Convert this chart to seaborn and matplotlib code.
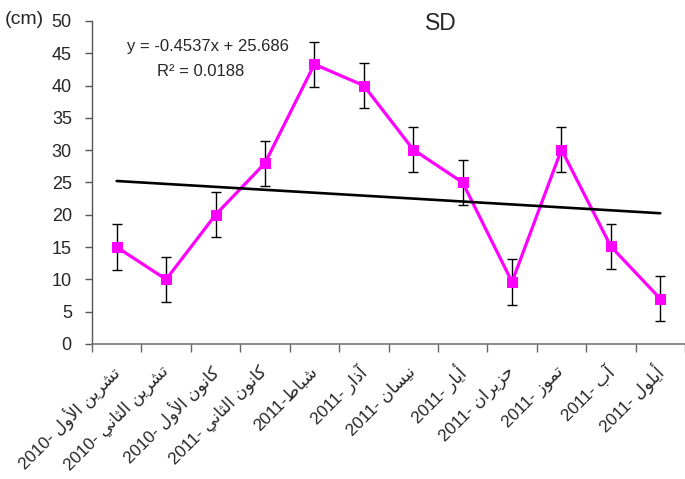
import numpy as np
import pandas as pd
import matplotlib
matplotlib.use("Agg")
import matplotlib.pyplot as plt
from matplotlib import font_manager
from matplotlib.transforms import ScaledTranslation
import seaborn as sns

# ---------------- data ----------------
months_ar = ["تشرين الأول", "تشرين الثاني", "كانون الأول", "كانون الثاني", "شباط", "آذار",
             "نيسان", "أيار", "حزيران", "تموز", "آب", "أيلول"]
years = ["2010", "2010", "2010", "2011", "2011", "2011",
         "2011", "2011", "2011", "2011", "2011", "2011"]
values = [15.0, 10.0, 20.0, 28.0, 43.3, 40.0, 30.1, 25.0, 9.6, 30.1, 15.1, 7.0]
errors = [3.5, 3.5, 3.5, 3.5, 3.5, 3.5, 3.5, 3.5, 3.5, 3.5, 3.5, 3.5]
trend_slope = -0.4537
trend_intercept = 25.686
eq_text = "y = -0.4537x + 25.686"
r2_text = "R² = 0.0188"
title = "SD"
unit = "(cm)"

# ---------------- minimal Arabic shaping ----------------
FORMS = {
    'ء': (0xFE80, 1), 'آ': (0xFE81, 2), 'أ': (0xFE83, 2), 'ؤ': (0xFE85, 2), 'إ': (0xFE87, 2),
    'ئ': (0xFE89, 4), 'ا': (0xFE8D, 2), 'ب': (0xFE8F, 4), 'ة': (0xFE93, 2), 'ت': (0xFE95, 4),
    'ث': (0xFE99, 4), 'ج': (0xFE9D, 4), 'ح': (0xFEA1, 4), 'خ': (0xFEA5, 4), 'د': (0xFEA9, 2),
    'ذ': (0xFEAB, 2), 'ر': (0xFEAD, 2), 'ز': (0xFEAF, 2), 'س': (0xFEB1, 4), 'ش': (0xFEB5, 4),
    'ص': (0xFEB9, 4), 'ض': (0xFEBD, 4), 'ط': (0xFEC1, 4), 'ظ': (0xFEC5, 4), 'ع': (0xFEC9, 4),
    'غ': (0xFECD, 4), 'ف': (0xFED1, 4), 'ق': (0xFED5, 4), 'ك': (0xFED9, 4), 'ل': (0xFEDD, 4),
    'م': (0xFEE1, 4), 'ن': (0xFEE5, 4), 'ه': (0xFEE9, 4), 'و': (0xFEED, 2), 'ى': (0xFEEF, 2),
    'ي': (0xFEF1, 4),
}
LIG = {'آ': 0xFEF5, 'أ': 0xFEF7, 'إ': 0xFEF9, 'ا': 0xFEFB}


def shape_rtl(s):
    toks = []
    i = 0
    while i < len(s):
        c = s[i]
        if c == 'ل' and i + 1 < len(s) and s[i + 1] in LIG:
            toks.append(('LIG', LIG[s[i + 1]]))
            i += 2
        else:
            toks.append(c)
            i += 1

    def jt(t):
        if isinstance(t, tuple):
            return 2
        return FORMS[t][1] if t in FORMS else 0

    out = []
    for k, t in enumerate(toks):
        prev = toks[k - 1] if k > 0 else None
        nxt = toks[k + 1] if k + 1 < len(toks) else None
        if isinstance(t, tuple):
            base, typ = t[1], 2
        elif t in FORMS:
            base, typ = FORMS[t]
        else:
            out.append(t)
            continue
        jb = prev is not None and jt(prev) == 4
        ja = typ == 4 and nxt is not None and jt(nxt) >= 2
        if typ == 4:
            ch = base + 3 if (jb and ja) else base + 1 if jb else base + 2 if ja else base
        elif typ == 2:
            ch = base + 1 if jb else base
        else:
            ch = base
        out.append(chr(ch))
    return ''.join(out)[::-1]


labels = []
for m, yv in zip(months_ar, years):
    sep = "-" if m == "شباط" else "- "
    labels.append(yv + sep + shape_rtl(m))

# ---------------- fonts ----------------
installed = {f.name for f in font_manager.fontManager.ttflist}
label_family = ['Liberation Sans']
if 'DejaVu Sans Condensed' in installed:
    label_family.append('DejaVu Sans Condensed')
label_family.append('DejaVu Sans')

# ---------------- plot ----------------
sns.set_style("ticks")
plt.rcParams['font.family'] = ['Liberation Sans', 'DejaVu Sans']

fig = plt.figure(figsize=(6.85, 4.79), dpi=100)
ax = fig.add_axes([92 / 685, 135 / 479, 593 / 685, 323 / 479])

x = np.arange(1, len(values) + 1)
df = pd.DataFrame({"month": x, "value": values, "err": errors})

ax.errorbar(df["month"], df["value"], yerr=df["err"], fmt="none", ecolor="black",
            elinewidth=1.0, capsize=3.5, capthick=1.0, zorder=2)
sns.lineplot(data=df, x="month", y="value", ax=ax, color="#FF00FF", linewidth=2.3,
             marker="s", markersize=6.5, markeredgecolor="#FF00FF", zorder=3)

tx = np.array([x[0], x[-1]])
ax.plot(tx, trend_slope * tx + trend_intercept, color="black", linewidth=1.9, zorder=4)

ax.set_xlim(0.5, 0.5 + 593 / 50.0)
ax.set_ylim(0, 50)
ax.set_yticks(np.arange(0, 51, 5))
ax.set_xlabel("")
ax.set_ylabel("")

ax.set_xticks(x)
ax.set_xticklabels(labels, rotation=45, ha="right", va="center", rotation_mode="anchor",
                   fontsize=12.3, family=label_family)
for lab in ax.get_xticklabels():
    lab.set_transform(lab.get_transform() + ScaledTranslation(-2 / 72, -7 / 72, fig.dpi_scale_trans))
ax.set_xticks(np.arange(0.5, 12.6, 1.0), minor=True)
ax.tick_params(axis="x", which="major", length=0, pad=18)
ax.tick_params(axis="x", which="minor", length=6, width=1.0, color="#666666", direction="out")
ax.tick_params(axis="y", which="major", length=5, width=1.0, color="#555555",
               direction="out", labelsize=13, pad=9.5)

for side in ["top", "right"]:
    ax.spines[side].set_visible(False)
ax.spines["left"].set_color("#555555")
ax.spines["bottom"].set_color("#777777")
ax.spines["left"].set_linewidth(1.0)
ax.spines["bottom"].set_linewidth(1.2)

fig.text(5 / 685, 1 - 20 / 479, unit, fontsize=14, va="center", ha="left")
fig.text(441 / 685, 1 - 23 / 479, title, fontsize=16.5, va="center", ha="center")
fig.text(208 / 685, 1 - 47 / 479, eq_text, fontsize=12, va="center", ha="center")
fig.text(201 / 685, 1 - 72 / 479, r2_text, fontsize=12, va="center", ha="center")

fig.savefig("out.png", dpi=100)
